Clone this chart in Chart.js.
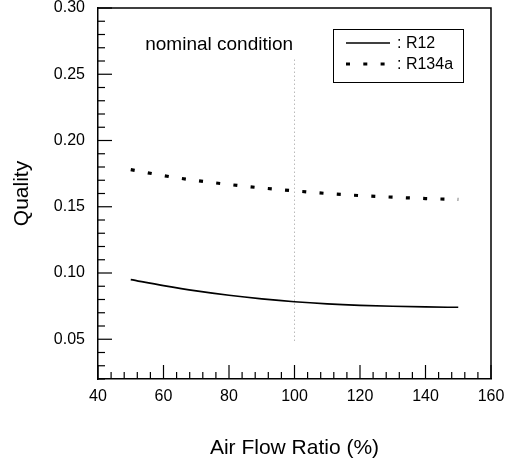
<!DOCTYPE html>
<html>
<head>
<meta charset="utf-8">
<script src="https://cdn.jsdelivr.net/npm/chart.js@4.4.1/dist/chart.umd.min.js"></script>
<style>
  html, body { margin: 0; padding: 0; background: #fff; }
  #wrap { width: 516px; height: 463px; }
</style>
</head>
<body>
<div id="wrap"><canvas id="grafica"></canvas></div>
<script>
// data
const airFlow = [50, 60, 70, 80, 90, 100, 110, 120, 130, 140, 150];
const qualityR12 = [0.095, 0.0905, 0.0865, 0.0832, 0.0805, 0.0783, 0.0767, 0.0756, 0.0749, 0.0744, 0.0741];
const qualityR134a = [0.178, 0.1735, 0.1698, 0.1668, 0.1642, 0.1620, 0.1600, 0.1584, 0.1572, 0.1562, 0.1555];
const nominalX = 100;
const nominalY = [0.261, 0.047];
const xTicks = [40, 60, 80, 100, 120, 140, 160];
const yTicks = [0.05, 0.10, 0.15, 0.20, 0.25, 0.30];

const FONT = "'Liberation Sans', Arial, sans-serif";
var context = document.getElementById('grafica').getContext('2d');

const toXY = (xs, ys) => xs.map((x, i) => ({x: x, y: ys[i]}));

// inward tick marks, frame, label and legend box
const extras = {
  id: 'extras',
  afterDraw(chart) {
    const ctx = chart.ctx;
    const xs = chart.scales.x, ys = chart.scales.y;
    const a = chart.chartArea;
    ctx.save();
    ctx.strokeStyle = '#000';
    ctx.lineWidth = 1.5;
    // top and right frame
    ctx.beginPath();
    ctx.moveTo(a.left, a.top); ctx.lineTo(a.right, a.top); ctx.lineTo(a.right, a.bottom);
    ctx.stroke();
    ctx.lineWidth = 1.2;
    // x ticks, every 4
    for (let v = 40; v <= 160; v += 4) {
      const px = xs.getPixelForValue(v);
      const len = v % 20 === 0 ? 14 : 7;
      ctx.beginPath(); ctx.moveTo(px, a.bottom); ctx.lineTo(px, a.bottom - len); ctx.stroke();
    }
    // y ticks, every 0.01
    for (let k = 2; k <= 30; k++) {
      const py = ys.getPixelForValue(k / 100);
      const len = k % 5 === 0 ? 14 : 7;
      ctx.beginPath(); ctx.moveTo(a.left, py); ctx.lineTo(a.left + len, py); ctx.stroke();
    }
    // annotation
    ctx.fillStyle = '#000';
    ctx.font = '19px ' + FONT;
    ctx.textAlign = 'center';
    ctx.textBaseline = 'middle';
    ctx.fillText('nominal condition', xs.getPixelForValue(77), ys.getPixelForValue(0.272));
    // legend
    const bx = 333, by = 29, bw = 130, bh = 53;
    ctx.lineWidth = 1;
    ctx.strokeRect(bx + 0.5, by + 0.5, bw, bh);
    ctx.font = '16px ' + FONT;
    ctx.textAlign = 'left';
    chart.data.datasets.slice(0, 2).forEach((ds, i) => {
      const ly = by + 14 + i * 21;
      ctx.strokeStyle = ds.borderColor;
      ctx.lineWidth = ds.borderWidth;
      ctx.setLineDash(ds.borderDash || []);
      ctx.beginPath(); ctx.moveTo(346, ly); ctx.lineTo(390, ly); ctx.stroke();
      ctx.setLineDash([]);
      ctx.fillText(': ' + ds.label, 397, ly + 1);
    });
    ctx.restore();
  }
};

var config = {
  type: 'line',
  data: {
    datasets: [{
      label: 'R12',
      data: toXY(airFlow, qualityR12),
      borderColor: '#000',
      borderWidth: 1.6,
      pointRadius: 0,
      cubicInterpolationMode: 'monotone'
    }, {
      label: 'R134a',
      data: toXY(airFlow, qualityR134a),
      borderColor: '#000',
      borderWidth: 3.2,
      borderDash: [4, 13.3],
      pointRadius: 0,
      cubicInterpolationMode: 'monotone'
    }, {
      label: 'nominal',
      data: nominalY.map(y => ({x: nominalX, y: y})),
      borderColor: '#999',
      borderWidth: 1,
      borderDash: [1, 3],
      pointRadius: 0
    }]
  },
  options: {
    responsive: false,
    animation: false,
    layout: { padding: { left: 0, right: 25, top: 8, bottom: 0 } },
    plugins: { legend: { display: false }, tooltip: { enabled: false } },
    scales: {
      x: {
        type: 'linear',
        min: 40, max: 160,
        afterFit: s => { s.height = 84; s.paddingLeft = 0; s.paddingRight = 0; },
        afterBuildTicks: s => { s.ticks = xTicks.map(v => ({value: v})); },
        grid: { display: false, drawTicks: false },
        border: { display: true, color: '#000', width: 1.5 },
        ticks: { color: '#000', padding: 8, maxRotation: 0, font: { family: FONT, size: 16 } },
        title: { display: true, text: 'Air Flow Ratio (%)', color: '#000',
                 font: { family: FONT, size: 21 }, padding: { top: 0, bottom: 2 } }
      },
      y: {
        min: 0.02, max: 0.30,
        afterFit: s => { s.width = 98; s.paddingTop = 0; s.paddingBottom = 0; },
        afterBuildTicks: s => { s.ticks = yTicks.map(v => ({value: v})); },
        grid: { display: false, drawTicks: false },
        border: { display: true, color: '#000', width: 1.5 },
        ticks: { color: '#000', padding: 13, font: { family: FONT, size: 16 },
                 callback: v => v.toFixed(2) },
        title: { display: true, text: 'Quality', color: '#000',
                 font: { family: FONT, size: 21 }, padding: { top: 10, bottom: 10 } }
      }
    }
  },
  plugins: [extras]
};
var canvas = document.getElementById('grafica');
canvas.width = 516; canvas.height = 463;
window.myChart = new Chart(context, config);
</script>
</body>
</html>
